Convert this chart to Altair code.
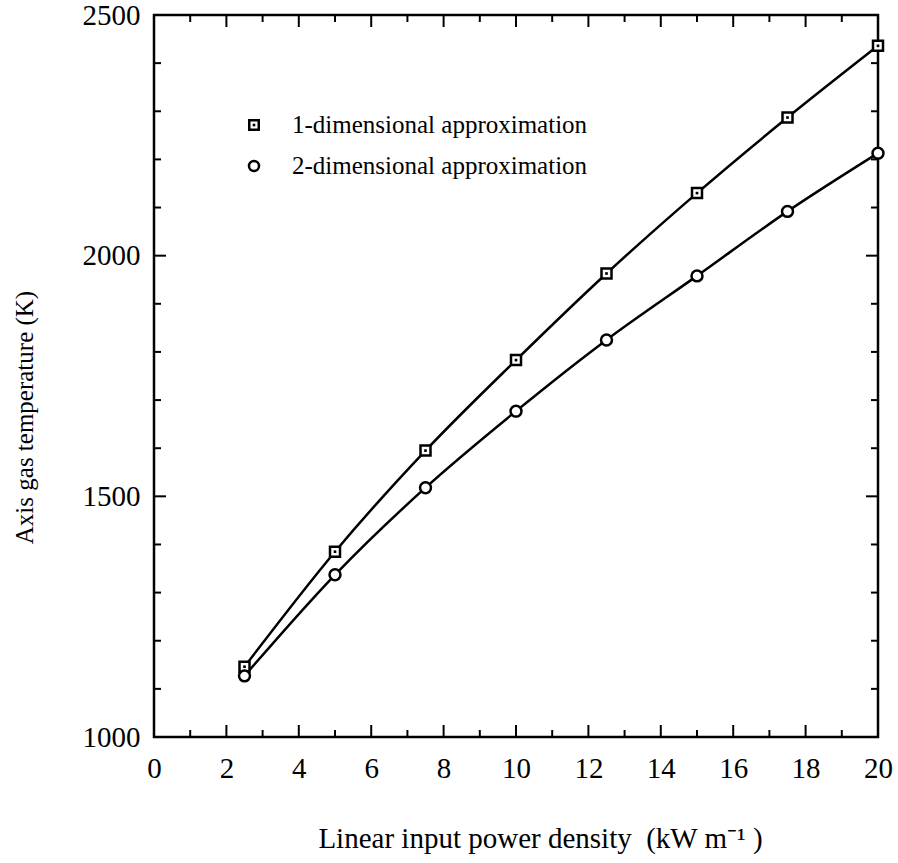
import altair as alt
import pandas as pd

# ---- data ----
power = [2.5, 5, 7.5, 10, 12.5, 15, 17.5, 20]
temp_1d = [1146, 1385, 1595, 1783, 1963, 2130, 2287, 2436]
temp_2d = [1127, 1337, 1518, 1677, 1825, 1958, 2092, 2213]
series_names = ["1-dimensional approximation", "2-dimensional approximation"]

x_major = [0, 2, 4, 6, 8, 10, 12, 14, 16, 18, 20]
x_minor = [1, 3, 5, 7, 9, 11, 13, 15, 17, 19]
y_major = [1000, 1500, 2000, 2500]
y_minor = [1100, 1200, 1300, 1400, 1600, 1700, 1800, 1900, 2100, 2200, 2300, 2400]

x_title = "Linear input power density\u00a0\u00a0(kW m\u207b\u00b9 )"
y_title = "Axis gas temperature (K)"

FONT = "Liberation Serif"
W, H = 724, 722
MAJ, MIN = 12, 7

df = pd.DataFrame({
    "power": power * 2,
    "temp": temp_1d + temp_2d,
    "series": [series_names[0]] * len(power) + [series_names[1]] * len(power),
})
d1 = df[df.series == series_names[0]]
d2 = df[df.series == series_names[1]]

xs = alt.Scale(domain=[0, 20], nice=False, zero=False)
ys = alt.Scale(domain=[1000, 2500], nice=False, zero=False)

x_axis = alt.Axis(values=x_major, ticks=False, domain=False, grid=False, format="d",
                  labelFont=FONT, labelFontSize=29, labelColor="black", labelPadding=17,
                  title=x_title, titleFont=FONT, titleFontSize=29, titleFontWeight="normal",
                  titleColor="black", titleX=386, titleY=110, titleAlign="center",
                  titleBaseline="alphabetic", labelFlush=False)
y_axis = alt.Axis(values=y_major, ticks=False, domain=False, grid=False, format="d",
                  labelFont=FONT, labelFontSize=29, labelColor="black", labelPadding=14,
                  title=y_title, titleFont=FONT, titleFontSize=25, titleFontWeight="normal",
                  titleColor="black", titleX=-130, titleY=402, titleAngle=-90,
                  titleAlign="center", titleBaseline="middle", labelFlush=False)

X = alt.X("power:Q", scale=xs, axis=x_axis)
Y = alt.Y("temp:Q", scale=ys, axis=y_axis)

lines = alt.Chart(df).mark_line(color="black", strokeWidth=2.5, interpolate="monotone").encode(
    x=X, y=Y, detail="series:N")

squares = alt.Chart(d1).mark_point(shape="square", filled=True, fill="white", stroke="black",
                                   strokeWidth=2.5, size=100, opacity=1).encode(
    x=alt.X("power:Q", scale=xs), y=alt.Y("temp:Q", scale=ys))
dots = alt.Chart(d1).mark_point(shape="square", filled=True, color="black", size=7, opacity=1).encode(
    x=alt.X("power:Q", scale=xs), y=alt.Y("temp:Q", scale=ys))
circles = alt.Chart(d2).mark_point(shape="circle", filled=True, fill="white", stroke="black",
                                   strokeWidth=2.5, size=120, opacity=1).encode(
    x=alt.X("power:Q", scale=xs), y=alt.Y("temp:Q", scale=ys))


def xticks(vals, length):
    d = pd.DataFrame({"v": vals})
    bottom = alt.Chart(d).mark_rule(color="black", strokeWidth=2).encode(
        x=alt.X("v:Q", scale=xs), y=alt.value(H), y2=alt.value(H - length))
    top = alt.Chart(d).mark_rule(color="black", strokeWidth=2).encode(
        x=alt.X("v:Q", scale=xs), y=alt.value(0), y2=alt.value(length))
    return [bottom, top]


def yticks(vals, length):
    d = pd.DataFrame({"v": vals})
    left = alt.Chart(d).mark_rule(color="black", strokeWidth=2).encode(
        y=alt.Y("v:Q", scale=ys), x=alt.value(0), x2=alt.value(length))
    right = alt.Chart(d).mark_rule(color="black", strokeWidth=2).encode(
        y=alt.Y("v:Q", scale=ys), x=alt.value(W), x2=alt.value(W - length))
    return [left, right]


tick_layers = (xticks(x_major, MAJ) + xticks(x_minor, MIN)
               + yticks(y_major, MAJ) + yticks(y_minor, MIN))

# ---- manual legend ----
leg = pd.DataFrame({"label": series_names})
leg1 = leg[leg.label == series_names[0]]
leg2 = leg[leg.label == series_names[1]]
leg_sq = alt.Chart(leg1).mark_point(shape="square", filled=True, fill="white", stroke="black",
                                    strokeWidth=2.5, size=90, opacity=1).encode(
    x=alt.value(100), y=alt.value(110))
leg_dot = alt.Chart(leg1).mark_point(shape="square", filled=True, color="black", size=7, opacity=1).encode(
    x=alt.value(100), y=alt.value(110))
leg_ci = alt.Chart(leg2).mark_point(shape="circle", filled=True, fill="white", stroke="black",
                                    strokeWidth=2.5, size=100, opacity=1).encode(
    x=alt.value(100), y=alt.value(151))
leg_t1 = alt.Chart(leg1).mark_text(font=FONT, fontSize=25, align="left", baseline="middle",
                                   color="black").encode(
    x=alt.value(138), y=alt.value(110), text="label:N")
leg_t2 = alt.Chart(leg2).mark_text(font=FONT, fontSize=25, align="left", baseline="middle",
                                   color="black").encode(
    x=alt.value(138), y=alt.value(151), text="label:N")

chart = alt.layer(
    lines, *tick_layers, squares, dots, circles,
    leg_sq, leg_dot, leg_ci, leg_t1, leg_t2
).properties(
    width=W, height=H,
    autosize=alt.AutoSizeParams(type="none"),
    padding={"left": 154, "top": 15, "right": 20, "bottom": 126},
    background="white",
).configure_view(stroke="black", strokeWidth=2.5)

chart.save("out.html", embed_options={"renderer": "svg", "actions": False})
